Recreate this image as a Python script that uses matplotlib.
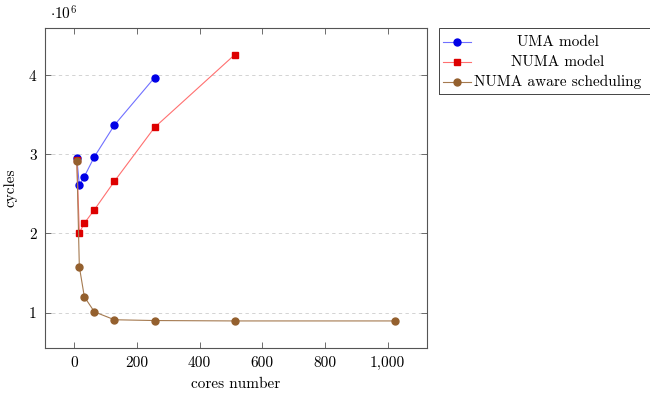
import matplotlib
matplotlib.use('Agg')
import matplotlib.pyplot as plt
from matplotlib.ticker import FuncFormatter
from matplotlib.lines import Line2D
from matplotlib.patches import Rectangle

plt.rcParams['font.family'] = ['cmr10', 'DejaVu Serif']
plt.rcParams['mathtext.fontset'] = 'cm'
plt.rcParams['axes.formatter.use_mathtext'] = True
plt.rcParams['font.size'] = 11

# cycles for each core count
cores_uma = [8, 16, 32, 64, 128, 256]
cycles_uma = [2.95e6, 2.61e6, 2.72e6, 2.97e6, 3.37e6, 3.97e6]

cores_numa = [8, 16, 32, 64, 128, 256, 512]
cycles_numa = [2.93e6, 2.01e6, 2.13e6, 2.30e6, 2.66e6, 3.34e6, 4.26e6]

cores_aware = [8, 16, 32, 64, 128, 256, 512, 1024]
cycles_aware = [2.92e6, 1.58e6, 1.20e6, 1.01e6, 0.91e6, 0.90e6, 0.895e6, 0.895e6]

labels = ['UMA model', 'NUMA model', 'NUMA aware scheduling']
series = [
    (cores_uma, cycles_uma, 'o', '#0000e6', '#7070ff', 5.0),
    (cores_numa, cycles_numa, 's', '#dd0000', '#ff7070', 4.8),
    (cores_aware, cycles_aware, 'o', '#94602e', '#a57a50', 5.0),
]

fig = plt.figure(figsize=(6.5, 3.94), dpi=100)
ax = fig.add_axes([45/650, 46/394, 382/650, 320/394])

for (x, y, m, c, lc, ms) in series:
    ax.plot(x, y, color=lc, lw=0.8, marker=m, ms=ms, mfc=c, mec=c)

ax.set_xlim(-93.6, 1125.6)
ax.set_ylim(0.553e6, 4.597e6)
ax.set_xticks([0, 200, 400, 600, 800, 1000])
ax.set_yticks([1e6, 2e6, 3e6, 4e6])
ax.xaxis.set_major_formatter(FuncFormatter(lambda v, p: f'{v:,.0f}'))
ax.yaxis.set_major_formatter(FuncFormatter(lambda v, p: f'{v/1e6:.0f}'))
ax.tick_params(direction='in', length=4, width=0.6, color='#555555',
               top=True, right=True, labelsize=11, pad=6)
ax.grid(axis='y', color='#cccccc', lw=0.6, ls=(0, (4, 4)))
for s in ax.spines.values():
    s.set_color('#555555')
    s.set_linewidth(0.8)

ax.set_xlabel('cores number', labelpad=5)
ax.set_ylabel('cycles', labelpad=8)
fig.text(50/650, 1 - 20/394, r'$\cdot10^{6}$', fontsize=11, va='baseline')

# legend box drawn by hand so the labels can be centred
box = Rectangle((439/650, 1 - 94/394), 300/650, 66/394, transform=fig.transFigure,
                fill=False, ec='#444444', lw=0.7)
fig.add_artist(box)
for i, ((x, y, m, c, lc, ms), lab) in enumerate(zip(series, labels)):
    yy = 1 - (42 + 20 * i) / 394
    fig.add_artist(Line2D([443/650, 471/650], [yy, yy], transform=fig.transFigure,
                          color=lc, lw=0.8))
    fig.add_artist(Line2D([457/650], [yy], transform=fig.transFigure, marker=m,
                          ms=ms, mfc=c, mec=c, ls='none'))
    fig.text(558/650, yy, lab, ha='center', va='center', fontsize=11)

fig.savefig('out.png', dpi=100)
